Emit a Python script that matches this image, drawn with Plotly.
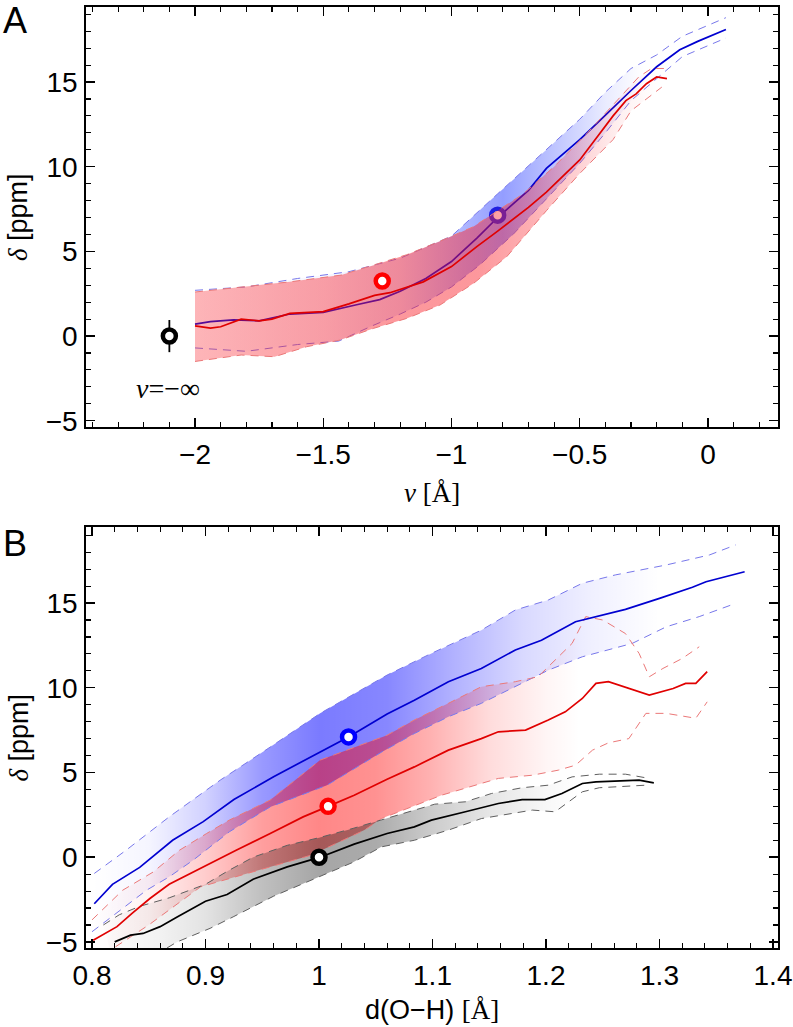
import plotly.graph_objects as go

# ================= DATA =================
# ---- Panel A : delta vs nu ----
a_blue_x = [-2.0, -1.94, -1.85, -1.75, -1.63, -1.5, -1.37, -1.28, -1.2, -1.1, -1.0, -0.9, -0.82,
            -0.7, -0.63, -0.5, -0.43, -0.3, -0.2, -0.11, -0.04, 0.07]
a_blue_mean = [0.7, 0.85, 0.95, 0.9, 1.3, 1.4, 1.85, 2.15, 2.65, 3.4, 4.4, 5.8, 7.0,
               8.6, 9.9, 11.6, 12.6, 14.5, 15.9, 16.9, 17.4, 18.1]
a_blue_up_x = [-2.0, -1.8, -1.6, -1.4, -1.2, -1.0, -0.82, -0.63, -0.5, -0.4, -0.3, -0.2, -0.1, 0.07]
a_blue_up = [2.7, 2.9, 3.4, 3.8, 4.6, 5.9, 8.4, 11.0, 12.8, 14.4, 15.8, 16.6, 17.7, 18.8]
a_blue_lo_x = [-2.0, -1.8, -1.6, -1.44, -1.31, -1.2, -1.1, -1.0, -0.89, -0.76, -0.63, -0.5, -0.4,
               -0.3, -0.2, -0.1, 0.07]
a_blue_lo = [-0.7, -0.9, -0.5, -0.3, 0.6, 1.3, 2.0, 2.9, 4.2, 6.0, 8.1, 10.2, 12.0,
             13.9, 15.2, 16.5, 17.6]

a_red_x = [-2.0, -1.94, -1.9, -1.82, -1.75, -1.7, -1.63, -1.5, -1.4, -1.3, -1.24, -1.11, -1.0,
           -0.9, -0.82, -0.76, -0.7, -0.63, -0.5, -0.43, -0.37, -0.32, -0.28, -0.24, -0.2, -0.16]
a_red_mean = [0.6, 0.47, 0.55, 1.0, 0.9, 1.0, 1.34, 1.44, 1.9, 2.4, 2.56, 3.2, 4.1,
              5.3, 6.2, 6.9, 7.6, 8.5, 10.4, 11.8, 13.0, 13.9, 14.3, 14.9, 15.3, 15.2]
a_red_up_x = [-2.0, -1.82, -1.63, -1.43, -1.3, -1.175, -1.045, -0.915, -0.72, -0.6, -0.47, -0.35,
              -0.27, -0.22, -0.17]
a_red_up = [2.6, 2.9, 3.2, 3.6, 4.2, 4.8, 5.6, 6.45, 8.4, 10.0, 12.0, 14.0, 15.3, 15.8, 15.8]
a_red_lo_x = [-2.0, -1.82, -1.69, -1.565, -1.435, -1.305, -1.175, -1.045, -0.915, -0.785, -0.63,
              -0.5, -0.37, -0.3, -0.18]
a_red_lo = [-1.5, -1.12, -1.22, -0.63, -0.24, 0.45, 1.04, 1.83, 3.1, 4.68, 7.4, 9.6, 11.6, 13.3, 14.7]

a_pts_x = [-2.1, -1.27, -0.82]          # black, red, blue reference points
a_pts_y = [0.0, 3.25, 7.14]
a_black_err = 0.95

# ---- Panel B : delta vs d(O-H) ----
b_blue_x = [0.802, 0.818, 0.842, 0.871, 0.898, 0.925, 0.96, 0.995, 1.026, 1.06, 1.084, 1.114, 1.143,
            1.173, 1.196, 1.226, 1.247, 1.27, 1.30, 1.329, 1.341, 1.362, 1.375]
b_blue_mean = [-2.75, -1.6, -0.6, 1.0, 2.1, 3.4, 4.75, 6.0, 7.1, 8.45, 9.27, 10.36, 11.14,
               12.23, 12.8, 13.9, 14.23, 14.63, 15.28, 15.93, 16.26, 16.6, 16.85]
b_blue_up_x = [0.802, 0.83, 0.868, 0.913, 0.957, 1.001, 1.06, 1.099, 1.143, 1.173, 1.202, 1.232,
               1.261, 1.306, 1.344, 1.367]
b_blue_up = [-0.96, 0.41, 2.38, 4.55, 6.5, 8.49, 10.75, 12.03, 13.4, 14.59, 15.18, 16.17,
             16.66, 17.25, 17.84, 18.43]
b_blue_lo_x = [0.80, 0.829, 0.848, 0.868, 0.889, 0.921, 0.957, 1.007, 1.055, 1.084, 1.114, 1.143,
               1.173, 1.202, 1.232, 1.261, 1.276, 1.306, 1.335, 1.367]
b_blue_lo = [-4.4, -2.9, -1.95, -1.16, -0.18, 1.5, 2.97, 4.25, 6.2, 7.3, 8.29, 9.08,
             10.06, 11.04, 11.83, 12.33, 12.62, 13.6, 14.2, 14.98]

b_red_x = [0.801, 0.822, 0.835, 0.851, 0.868, 0.898, 0.927, 0.957, 0.986, 1.008, 1.031, 1.06, 1.084,
           1.114, 1.143, 1.158, 1.182, 1.202, 1.217, 1.232, 1.244, 1.255, 1.273, 1.291, 1.312,
           1.323, 1.332, 1.342]
b_red_mean = [-4.9, -4.1, -3.33, -2.44, -1.6, -0.57, 0.41, 1.4, 2.38, 3.0, 3.66, 4.6, 5.33,
              6.32, 7.0, 7.4, 7.5, 8.1, 8.58, 9.37, 10.26, 10.36, 9.96, 9.57, 9.96,
              10.26, 10.26, 10.95]
b_red_up_x = [0.80, 0.827, 0.854, 0.877, 0.901, 0.921, 0.957, 1.001, 1.06, 1.084, 1.114, 1.143,
              1.173, 1.193, 1.211, 1.223, 1.235, 1.25, 1.27, 1.282, 1.291, 1.303, 1.32, 1.335]
b_red_up = [-3.7, -1.95, -0.87, 0.41, 1.4, 2.19, 3.37, 5.73, 7.2, 8.1, 9.08, 10.06,
            10.36, 10.65, 11.83, 12.62, 14.2, 14.0, 13.2, 12.03, 10.65, 11.14, 11.73, 12.42]
b_red_lo_x = [0.80, 0.85, 0.8956, 0.993, 1.04, 1.055, 1.108, 1.158, 1.188, 1.211, 1.226, 1.241,
              1.255, 1.273, 1.288, 1.306, 1.332, 1.342]
b_red_lo = [-6.2, -4.0, -1.75, 0.12, 1.6, 2.28, 3.66, 4.65, 4.84, 5.14, 5.43, 6.32,
            6.75, 7.0, 8.49, 8.49, 8.2, 9.17]

b_black_x = [0.82, 0.834, 0.845, 0.86, 0.875, 0.9, 0.919, 0.942, 0.972, 1.001, 1.031, 1.06, 1.084,
             1.099, 1.129, 1.158, 1.179, 1.199, 1.214, 1.232, 1.244, 1.261, 1.282, 1.295]
b_black_mean = [-5.0, -4.6, -4.5, -4.1, -3.53, -2.6, -2.2, -1.3, -0.57, 0.0, 0.77, 1.4, 1.79,
                2.19, 2.68, 3.17, 3.4, 3.4, 3.76, 4.35, 4.45, 4.49, 4.55, 4.39]
b_black_up_x = [0.81, 0.824, 0.842, 0.868, 0.9, 0.92, 0.942, 0.972, 1.0, 1.03, 1.06, 1.084, 1.102,
                1.129, 1.152, 1.179, 1.202, 1.223, 1.247, 1.27, 1.291]
b_black_up = [-4.0, -3.4, -2.9, -2.4, -1.6, -0.8, 0.0, 0.7, 1.15, 1.7, 2.3, 2.78, 3.13,
              3.27, 3.76, 4.1, 4.25, 4.74, 4.9, 4.9, 4.65]
b_black_lo_x = [0.82, 0.86, 0.875, 0.904, 0.925, 0.96, 0.993, 1.03, 1.055, 1.084, 1.114, 1.143,
                1.188, 1.208, 1.22, 1.232, 1.247, 1.276, 1.288]
b_black_lo = [-6.5, -5.6, -5.0, -4.2, -3.5, -2.3, -1.36, -0.3, 0.61, 1.0, 1.6, 2.28,
              2.78, 2.68, 3.27, 3.86, 4.1, 4.2, 4.25]

b_pts_x = [1.0, 1.008, 1.026]          # black, red, blue reference points
b_pts_y = [0.0, 3.0, 7.1]

# ================= STYLE =================
W, H = 793, 1027
PX_L, PX_R = 86, 778
A_TOP, A_BOT = 7, 427
B_TOP, B_BOT = 527, 948
SANS = "Liberation Sans, Arial, Helvetica, sans-serif"
SERIF = "Liberation Serif, Times New Roman, serif"
TICK_FS, TITLE_FS, PANEL_FS = 28, 27, 36

BLUE, RED, BLACK = "#0000d0", "#e00000", "#000000"
DBLUE, DRED, DGRAY = "rgb(120,120,235)", "rgb(235,120,120)", "rgb(95,95,95)"
DASH = "8px,6px"

# alpha along x for the gradient bands: (x, alpha)
a_blue_alpha = [(-2.0, 0.0), (-1.5, 0.04), (-1.2, 0.13), (-0.95, 0.38), (-0.8, 0.5), (-0.6, 0.3),
                (-0.4, 0.1), (-0.25, 0.0), (0.07, 0.0)]
a_red_alpha = [(-2.0, 0.33), (-1.6, 0.4), (-1.2, 0.46), (-0.9, 0.46), (-0.7, 0.36), (-0.5, 0.2),
               (-0.35, 0.07), (-0.2, 0.0), (-0.16, 0.0)]
b_blue_alpha = [(0.80, 0.0), (0.85, 0.04), (0.9, 0.18), (0.95, 0.4), (1.0, 0.52), (1.06, 0.47),
                (1.12, 0.3), (1.18, 0.15), (1.24, 0.06), (1.30, 0.0), (1.37, 0.0)]
b_red_alpha = [(0.80, 0.0), (0.85, 0.05), (0.9, 0.2), (0.95, 0.38), (1.0, 0.47), (1.05, 0.43),
               (1.1, 0.3), (1.15, 0.14), (1.2, 0.04), (1.23, 0.0), (1.345, 0.0)]
b_gray_alpha = [(0.80, 0.0), (0.86, 0.05), (0.9, 0.11), (0.95, 0.25), (1.0, 0.35), (1.05, 0.33),
                (1.1, 0.2), (1.15, 0.1), (1.2, 0.03), (1.23, 0.0), (1.3, 0.0)]

fig = go.Figure()


def band(xu, yu, xl, yl, rgb, alphas, xa, ya):
    xs = list(xu) + list(xl)[::-1]
    ys = list(yu) + list(yl)[::-1]
    x0, x1 = alphas[0][0], alphas[-1][0]
    cs = [[(x - x0) / (x1 - x0), f"rgba({rgb},{a})"] for x, a in alphas]
    fig.add_trace(go.Scatter(x=xs, y=ys, xaxis=xa, yaxis=ya, mode="none", fill="toself",
                             fillgradient=dict(type="horizontal", colorscale=cs, start=x0, stop=x1),
                             hoverinfo="skip", showlegend=False))


def line(x, y, color, xa, ya, width=1.7, dash=None):
    fig.add_trace(go.Scatter(x=x, y=y, xaxis=xa, yaxis=ya, mode="lines",
                             line=dict(color=color, width=width, dash=dash),
                             hoverinfo="skip", showlegend=False))


def point(x, y, color, xa, ya, err=None):
    fig.add_trace(go.Scatter(x=[x], y=[y], xaxis=xa, yaxis=ya, mode="markers",
                             marker=dict(size=13, color="white", line=dict(color=color, width=4.5)),
                             error_y=(dict(type="constant", value=err, color=color, thickness=1.8, width=0)
                                      if err else None),
                             hoverinfo="skip", showlegend=False))


# ---------- Panel A ----------
band(a_blue_up_x, a_blue_up, a_blue_lo_x, a_blue_lo, "40,60,255", a_blue_alpha, "x", "y")
line(a_blue_up_x, a_blue_up, DBLUE, "x", "y", 1.0, DASH)
line(a_blue_lo_x, a_blue_lo, DBLUE, "x", "y", 1.0, DASH)
line(a_blue_x, a_blue_mean, BLUE, "x", "y")
point(a_pts_x[2], a_pts_y[2], "#2020e0", "x", "y")
band(a_red_up_x, a_red_up, a_red_lo_x, a_red_lo, "250,30,40", a_red_alpha, "x", "y")
line(a_red_up_x, a_red_up, DRED, "x", "y", 1.0, DASH)
line(a_red_lo_x, a_red_lo, DRED, "x", "y", 1.0, DASH)
line(a_red_x, a_red_mean, RED, "x", "y")
point(a_pts_x[1], a_pts_y[1], "#ff0000", "x", "y")
point(a_pts_x[0], a_pts_y[0], BLACK, "x", "y", a_black_err)

# ---------- Panel B ----------
band(b_blue_up_x, b_blue_up, b_blue_lo_x, b_blue_lo, "0,0,255", b_blue_alpha, "x2", "y2")
band(b_red_up_x, b_red_up, b_red_lo_x, b_red_lo, "255,0,0", b_red_alpha, "x2", "y2")
band(b_black_up_x, b_black_up, b_black_lo_x, b_black_lo, "0,0,0", b_gray_alpha, "x2", "y2")
for (xx, yy, c) in [(b_blue_up_x, b_blue_up, DBLUE), (b_blue_lo_x, b_blue_lo, DBLUE),
                    (b_red_up_x, b_red_up, DRED), (b_red_lo_x, b_red_lo, DRED),
                    (b_black_up_x, b_black_up, DGRAY), (b_black_lo_x, b_black_lo, DGRAY)]:
    line(xx, yy, c, "x2", "y2", 1.0, DASH)
line(b_blue_x, b_blue_mean, BLUE, "x2", "y2")
line(b_red_x, b_red_mean, RED, "x2", "y2")
line(b_black_x, b_black_mean, BLACK, "x2", "y2")
point(b_pts_x[2], b_pts_y[2], "#0000ff", "x2", "y2")
point(b_pts_x[1], b_pts_y[1], "#ff0000", "x2", "y2")
point(b_pts_x[0], b_pts_y[0], BLACK, "x2", "y2")

# ---------- Axes ----------
xd = [PX_L / W, PX_R / W]
common = dict(showline=True, linecolor="black", linewidth=1.8, mirror="allticks",
              ticks="inside", ticklen=9, tickwidth=1.4, tickcolor="black",
              showgrid=False, zeroline=False, automargin=False,
              tickfont=dict(family=SANS, size=TICK_FS, color="black"))
minor_common = dict(ticks="inside", ticklen=5, tickwidth=1.1, tickcolor="black", showgrid=False)

fig.update_layout(
    width=W, height=H, margin=dict(l=0, r=0, t=0, b=0, pad=0), autosize=False,
    paper_bgcolor="white", plot_bgcolor="white", showlegend=False,
    xaxis=dict(domain=xd, anchor="y", range=[-2.425, 0.273], tick0=0, dtick=0.5,
               minor=dict(dtick=0.1, **minor_common), ticklabelstandoff=2, **common),
    yaxis=dict(domain=[1 - A_BOT / H, 1 - A_TOP / H], anchor="x", range=[-5.37, 19.43],
               tick0=0, dtick=5, minor=dict(dtick=1, **minor_common), ticklabelstandoff=1, **common),
    xaxis2=dict(domain=xd, anchor="y2", range=[0.7947, 1.4044], tick0=0, dtick=0.1,
                minor=dict(dtick=0.02, **minor_common), ticklabelstandoff=2, **common),
    yaxis2=dict(domain=[1 - B_BOT / H, 1 - B_TOP / H], anchor="x2", range=[-5.36, 19.49],
                tick0=0, dtick=5, minor=dict(dtick=1, **minor_common), ticklabelstandoff=1, **common),
)

ann = []
for lab, yc in [("A", 21), ("B", 543)]:
    ann.append(dict(text=lab, x=15 / W, y=1 - yc / H, xref="paper", yref="paper", xanchor="center",
                    yanchor="middle", showarrow=False, font=dict(family=SANS, size=PANEL_FS, color="black")))
ytitle = f"<span style='font-family:{SERIF}'><i>δ</i></span> [ppm]"
for top, bot in [(A_TOP, A_BOT), (B_TOP, B_BOT)]:
    ann.append(dict(text=ytitle, x=18 / W, y=1 - (top + bot) / 2 / H, xref="paper", yref="paper",
                    textangle=-90, showarrow=False, xanchor="center", yanchor="middle",
                    font=dict(family=SANS, size=TITLE_FS, color="black")))
ann.append(dict(text=f"<span style='font-family:{SERIF}'><i>ν</i> [Å]</span>",
                x=(PX_L + PX_R) / 2 / W, y=1 - 493 / H, xref="paper", yref="paper",
                showarrow=False, xanchor="center", yanchor="middle",
                font=dict(family=SERIF, size=TITLE_FS, color="black")))
ann.append(dict(text=f"d(O−H) <span style='font-family:{SERIF}'>[Å]</span>",
                x=(PX_L + PX_R) / 2 / W, y=1 - 1010 / H, xref="paper", yref="paper",
                showarrow=False, xanchor="center", yanchor="middle",
                font=dict(family=SANS, size=TITLE_FS, color="black")))
ann.append(dict(text="<i>ν</i>=−∞", x=-2.105, y=-3.07, xref="x", yref="y", showarrow=False,
                xanchor="center", yanchor="middle", font=dict(family=SERIF, size=28, color="black")))
fig.update_layout(annotations=ann)

# remove the default page margin so the figure fills the window exactly
fig.write_html("out.html", config={"displayModeBar": False, "staticPlot": True},
               post_script="document.body.style.margin='0px';")
